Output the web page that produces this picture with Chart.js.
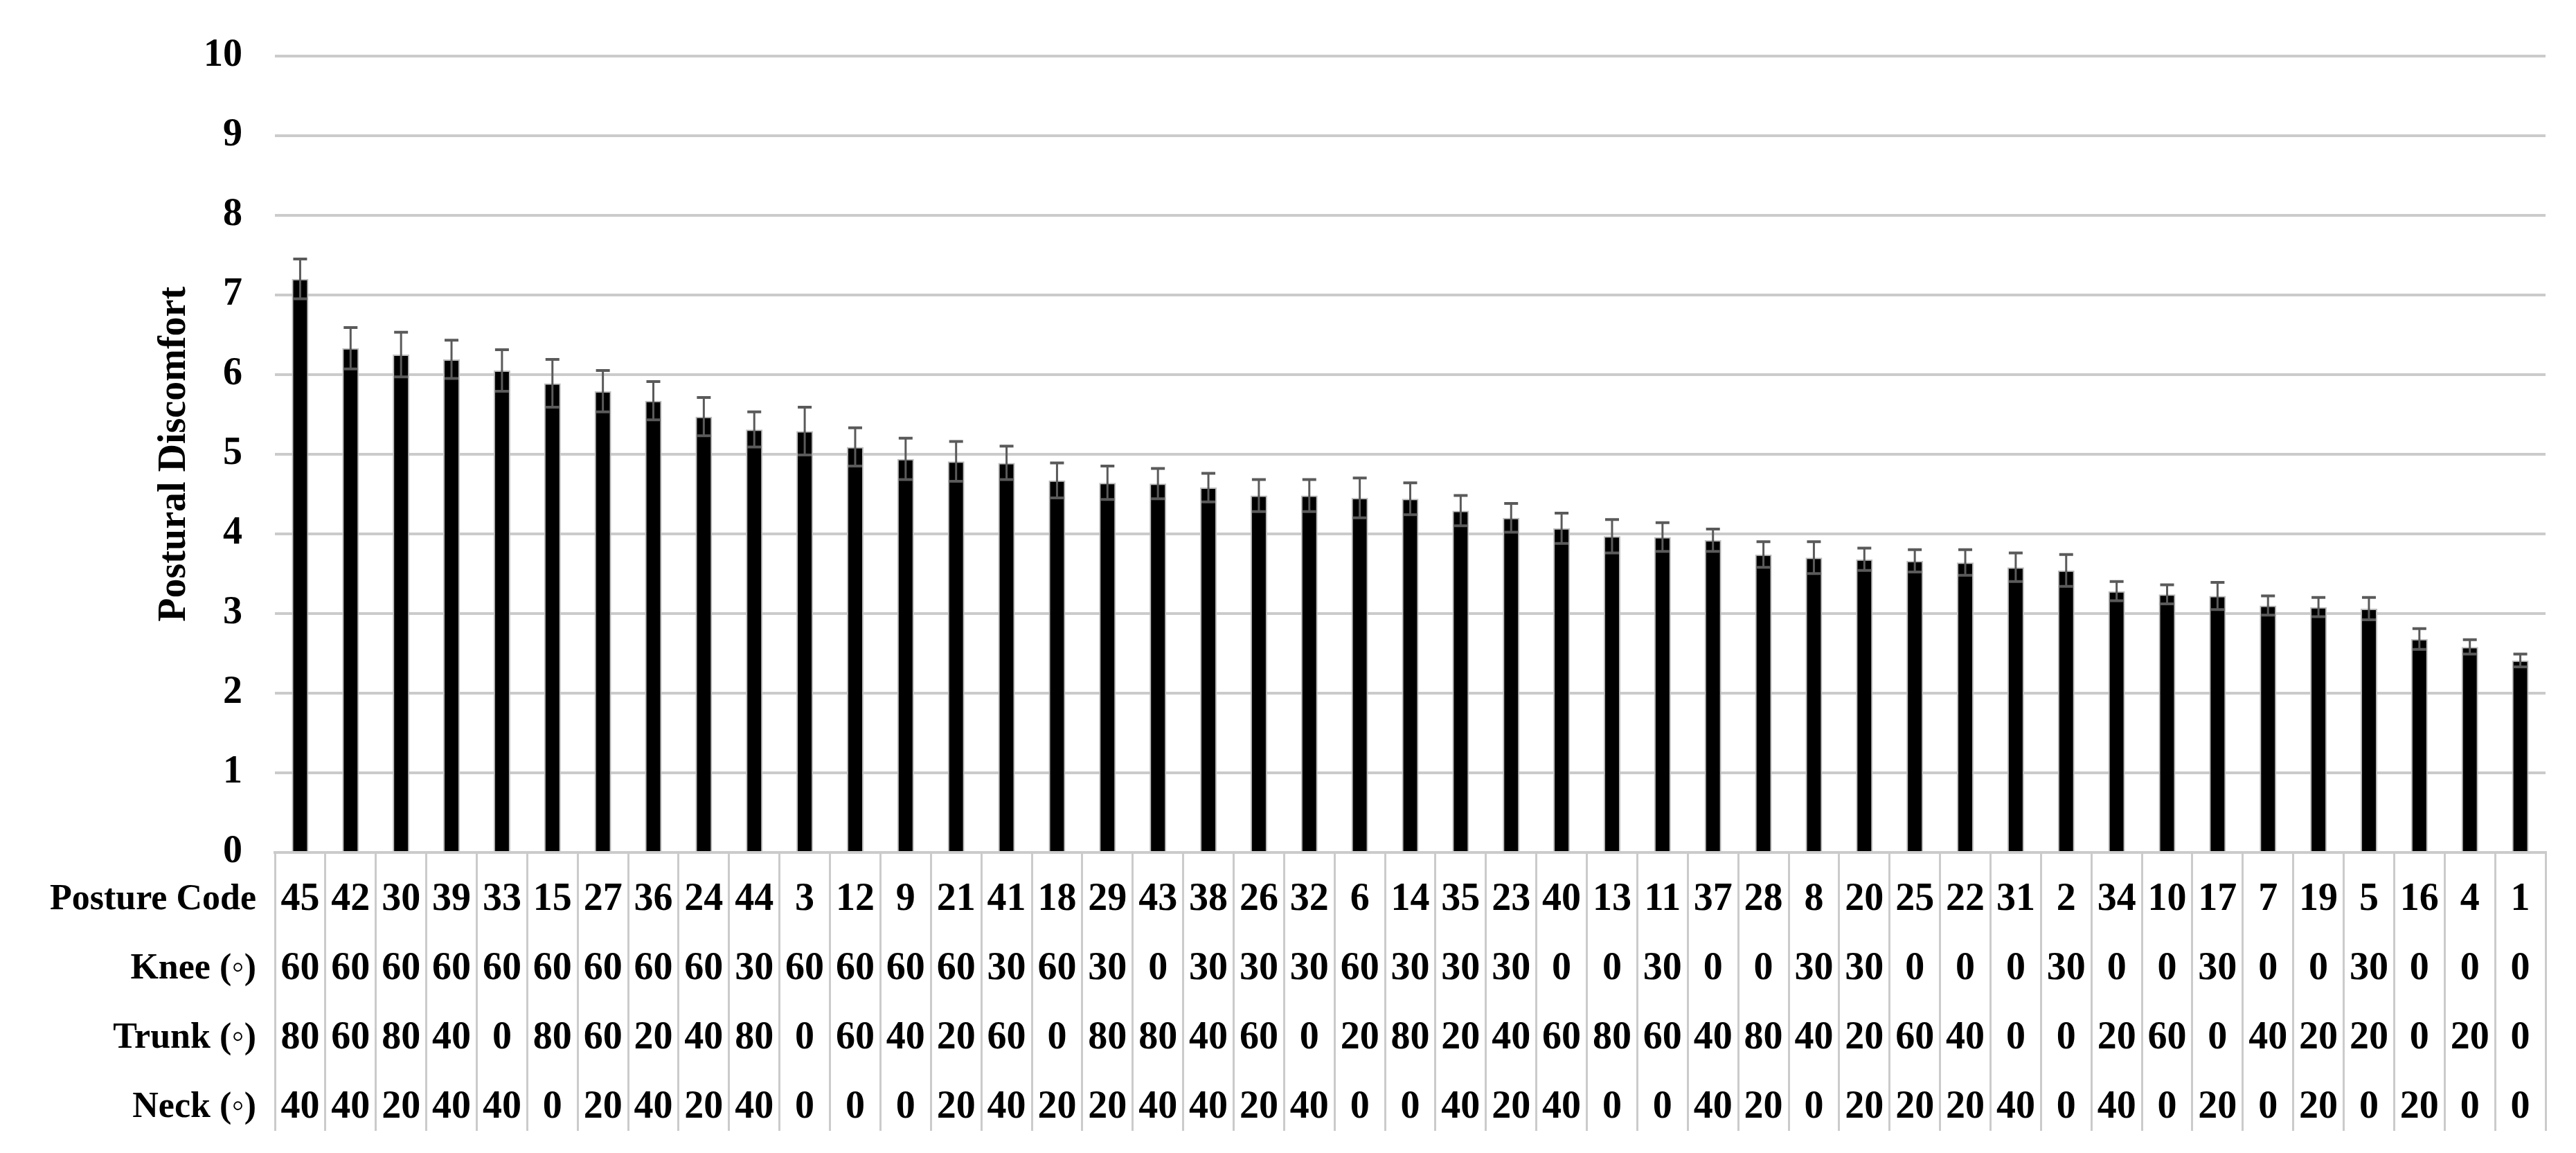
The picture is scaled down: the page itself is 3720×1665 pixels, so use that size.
<!DOCTYPE html>
<html>
<head>
<meta charset="utf-8">
<script src="https://cdn.jsdelivr.net/npm/chart.js@4"></script>
<style>
  body { margin: 0; background: #fff; }
</style>
</head>
<body>
<canvas id="myChart" width="3720" height="1665"></canvas>
<script>
const postureCodes = [45, 42, 30, 39, 33, 15, 27, 36, 24, 44, 3, 12, 9, 21, 41, 18, 29, 43, 38, 26, 32, 6, 14, 35, 23, 40, 13, 11, 37, 28, 8, 20, 25, 22, 31, 2, 34, 10, 17, 7, 19, 5, 16, 4, 1]
const knee = [60, 60, 60, 60, 60, 60, 60, 60, 60, 30, 60, 60, 60, 60, 30, 60, 30, 0, 30, 30, 30, 60, 30, 30, 30, 0, 0, 30, 0, 0, 30, 30, 0, 0, 0, 30, 0, 0, 30, 0, 0, 30, 0, 0, 0]
const trunk = [80, 60, 80, 40, 0, 80, 60, 20, 40, 80, 0, 60, 40, 20, 60, 0, 80, 80, 40, 60, 0, 20, 80, 20, 40, 60, 80, 60, 40, 80, 40, 20, 60, 40, 0, 0, 20, 60, 0, 40, 20, 20, 0, 20, 0]
const neck = [40, 40, 20, 40, 40, 0, 20, 40, 20, 40, 0, 0, 0, 20, 40, 20, 20, 40, 40, 20, 40, 0, 0, 40, 20, 40, 0, 0, 40, 20, 0, 20, 20, 20, 40, 0, 40, 0, 20, 0, 20, 0, 20, 0, 0]
const discomfort = [7.20, 6.33, 6.25, 6.19, 6.05, 5.89, 5.79, 5.67, 5.47, 5.31, 5.29, 5.09, 4.94, 4.91, 4.89, 4.67, 4.64, 4.63, 4.58, 4.48, 4.48, 4.45, 4.44, 4.29, 4.20, 4.07, 3.97, 3.96, 3.92, 3.74, 3.70, 3.68, 3.66, 3.64, 3.58, 3.54, 3.28, 3.24, 3.22, 3.10, 3.08, 3.06, 2.68, 2.58, 2.41]
const errors = [0.25, 0.26, 0.28, 0.24, 0.26, 0.30, 0.26, 0.24, 0.24, 0.22, 0.30, 0.24, 0.26, 0.25, 0.21, 0.22, 0.21, 0.19, 0.18, 0.20, 0.20, 0.25, 0.20, 0.19, 0.18, 0.19, 0.21, 0.18, 0.14, 0.16, 0.20, 0.14, 0.14, 0.16, 0.18, 0.20, 0.12, 0.12, 0.17, 0.12, 0.12, 0.14, 0.13, 0.09, 0.08]
const rowNames = ["Posture Code", "Knee (\u25E6)", "Trunk (\u25E6)", "Neck (\u25E6)"]
const yTicks = [0, 1, 2, 3, 4, 5, 6, 7, 8, 9, 10]

const serif = "'Liberation Serif', 'Times New Roman', serif"
const gridGray = "#cbcbcb"
const tableHeight = 402
const firstRow = 69
const rowHeight = 100

// rows of the table under the bars, one entry per category
const tableRows = [postureCodes, knee, trunk, neck]

const errorBars = {
  id: "errorBars",
  afterDatasetsDraw(chart) {
    const ctx = chart.ctx
    const y = chart.scales.y
    const meta = chart.getDatasetMeta(0)
    ctx.save()
    ctx.strokeStyle = "#5a5a5a"
    meta.data.forEach((bar, i) => {
      const top = y.getPixelForValue(discomfort[i] + errors[i])
      const bottom = y.getPixelForValue(discomfort[i] - errors[i])
      ctx.lineWidth = 3
      ctx.beginPath()
      ctx.moveTo(bar.x, top)
      ctx.lineTo(bar.x, bottom)
      ctx.stroke()
      ctx.lineWidth = 4
      ctx.beginPath()
      ctx.moveTo(bar.x - 10, top)
      ctx.lineTo(bar.x + 10, top)
      ctx.moveTo(bar.x - 10, bottom)
      ctx.lineTo(bar.x + 10, bottom)
      ctx.stroke()
    })
    ctx.restore()
  }
}

const dataTable = {
  id: "dataTable",
  afterDraw(chart) {
    const ctx = chart.ctx
    const x = chart.scales.x
    ctx.save()
    ctx.fillStyle = "#000"
    ctx.textBaseline = "middle"
    rowNames.forEach((name, r) => {
      const rowY = x.top + firstRow + rowHeight * r
      ctx.font = "bold 52px " + serif
      ctx.textAlign = "right"
      ctx.fillText(name, x.left - 27, rowY)
      ctx.font = "bold 56px " + serif
      ctx.textAlign = "center"
      tableRows[r].forEach((v, i) => {
        ctx.fillText(String(v), x.getPixelForValue(i), rowY)
      })
    })
    ctx.restore()
  }
}

const ctx = document.getElementById("myChart").getContext("2d")
const myChart = new Chart(ctx, {
  type: "bar",
  data: {
    labels: postureCodes.map(String),
    datasets: [{
      label: "Postural Discomfort",
      data: discomfort,
      backgroundColor: "#000000",
      borderColor: "#bdbdbd",
      borderWidth: 2,
      categoryPercentage: 1,
      barPercentage: 0.33
    }]
  },
  options: {
    responsive: false,
    devicePixelRatio: 1,
    animation: false,
    layout: {
      padding: { top: 76.6, right: 44, bottom: 32, left: 219 }
    },
    plugins: {
      legend: { display: false },
      tooltip: { enabled: false }
    },
    scales: {
      y: {
        min: 0,
        max: 10,
        afterBuildTicks: scale => { scale.ticks = yTicks.map(v => ({ value: v })) },
        afterFit: scale => { scale.width = 178 },
        border: { display: false },
        grid: { color: gridGray, lineWidth: 4, drawTicks: false },
        ticks: {
          color: "#000",
          padding: 47,
          font: { family: serif, size: 56, weight: "bold" }
        },
        title: {
          display: true,
          text: "Postural Discomfort",
          color: "#000",
          padding: { top: 0, bottom: 0 },
          font: { family: serif, size: 56, weight: "bold" }
        }
      },
      x: {
        offset: true,
        afterFit: scale => { scale.height = tableHeight },
        border: { display: true, color: gridGray, width: 4 },
        grid: {
          offset: true,
          drawOnChartArea: false,
          drawTicks: true,
          tickLength: tableHeight,
          color: gridGray,
          lineWidth: 3
        },
        ticks: { display: false }
      }
    }
  },
  plugins: [errorBars, dataTable]
})
</script>
</body>
</html>
